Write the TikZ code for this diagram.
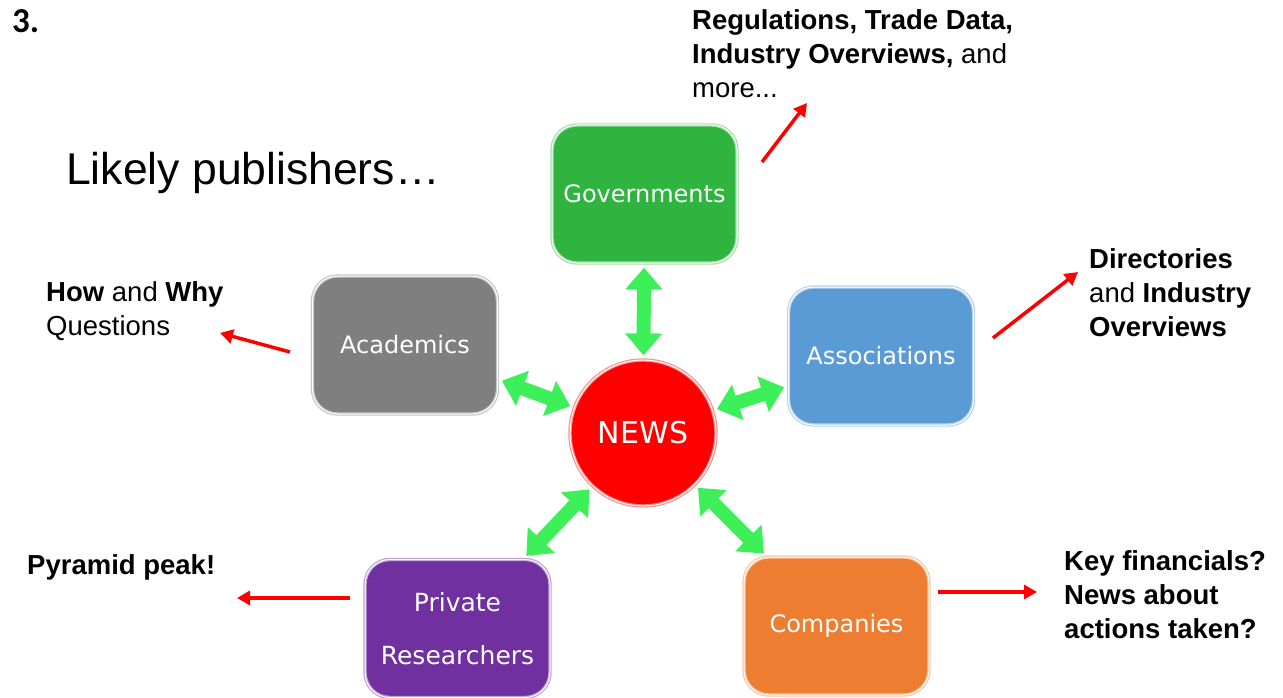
\documentclass[tikz,border=0pt]{standalone}
\usepackage{fontspec}
\setmainfont{Liberation Sans}
\newfontfamily\boxfont{DejaVu Sans}
\newfontfamily\numfont{Carlito}
\usetikzlibrary{arrows.meta}
\definecolor{govgreen}{HTML}{2EB43F}
\definecolor{acagray}{HTML}{7F7F7F}
\definecolor{assblue}{HTML}{5B9BD5}
\definecolor{privpurple}{HTML}{7030A0}
\definecolor{comporange}{HTML}{ED7D31}
\definecolor{newsred}{HTML}{FF0000}
\definecolor{arrowgreen}{HTML}{3DF05A}
\tikzset{
  pubbox/.style={rounded corners=25pt, minimum width=185pt, minimum height=138pt,
    inner sep=0pt, line width=1.2pt, double=white, double distance=1pt,
    text=white, align=center, font=\boxfont\fontsize{24}{28}\selectfont},
  newscircle/.style={circle, minimum size=146pt, inner sep=0pt, fill=newsred,
    draw=newsred!45, line width=1.2pt, double=white, double distance=1pt,
    text=white, font=\boxfont\fontsize{30}{34}\selectfont},
  greenarrow/.style={draw=arrowgreen, line width=14pt,
    {Triangle[width=36pt,length=22pt]}-{Triangle[width=36pt,length=22pt]},
    shorten <=4pt, shorten >=4pt},
  redarrow/.style={draw=red, line width=3.5pt, -{Triangle[width=14pt,length=13pt]}},
  note/.style={anchor=base west, align=left, inner sep=0pt,
    font=\fontsize{27.5}{34}\selectfont}
}
\begin{document}
\begin{tikzpicture}[x=1pt,y=-1pt]
\useasboundingbox (0,0) rectangle (1283,698);

% title texts
\node[anchor=base west, inner sep=0pt, font=\numfont\bfseries\fontsize{35}{40}\selectfont] (num) at (12,33) {3.};
\node[anchor=base west, inner sep=0pt, font=\fontsize{44.5}{52}\selectfont] (likely) at (66,185) {Likely publishers\ldots};

% boxes
\node[pubbox, fill=govgreen, draw=govgreen!45] (gov) at (644.5,194) {Governments};
\node[pubbox, fill=acagray, draw=acagray!45] (aca) at (405,345) {Academics};
\node[pubbox, fill=assblue, draw=assblue!45] (ass) at (881,356) {Associations};
\node[pubbox, fill=privpurple, draw=privpurple!45, font=\boxfont\fontsize{25}{53}\selectfont] (priv) at (457.5,628.5) {Private\\Researchers};
\node[pubbox, fill=comporange, draw=comporange!45] (comp) at (836.5,626) {Companies};
\node[newscircle] (news) at (643,433) {NEWS};

% green double arrows
\draw[greenarrow] (gov) -- (news);
\draw[greenarrow] (aca) -- (news);
\draw[greenarrow] (ass) -- (news);
\draw[greenarrow] (priv) -- (news);
\draw[greenarrow] (comp) -- (news);

% notes (anchor = baseline of last line)
\node[note] (govnote) at (692,98) {\textbf{Regulations, Trade Data,}\\\textbf{Industry Overviews,} and\\more...};
\node[note] (assnote) at (1089,336) {\textbf{Directories}\\and \textbf{Industry}\\\textbf{Overviews}};
\node[note] (acanote) at (46,335) {\textbf{How} and \textbf{Why}\\Questions};
\node[note] (privnote) at (27,574) {\textbf{Pyramid peak!}};
\node[note] (compnote) at (1064,638) {\textbf{Key financials?}\\\textbf{News about}\\\textbf{actions taken?}};

% red arrows
\coordinate (g1) at (762,162); \coordinate (g2) at (807,103);
\coordinate (s1) at (993,338); \coordinate (s2) at (1078,272);
\coordinate (a1) at (290,352); \coordinate (a2) at (220,333);
\coordinate (p1) at (350,598); \coordinate (p2) at (237,598);
\coordinate (c1) at (938,592); \coordinate (c2) at (1037,592);
\draw[redarrow] (g1) -- (g2);
\draw[redarrow] (s1) -- (s2);
\draw[redarrow] (a1) -- (a2);
\draw[redarrow] (p1) -- (p2);
\draw[redarrow] (c1) -- (c2);
\end{tikzpicture}
\end{document}
